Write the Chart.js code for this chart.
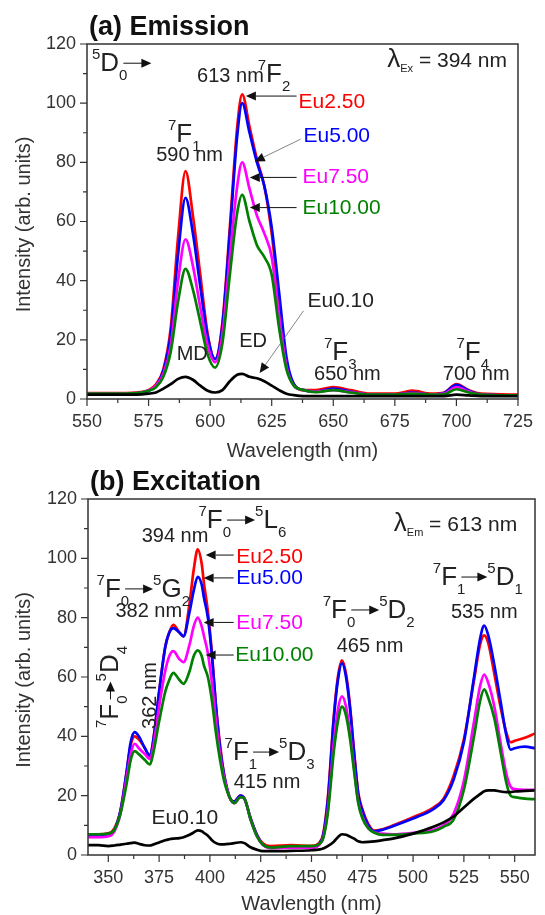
<!DOCTYPE html>
<html>
<head>
<meta charset="utf-8">
<script src="https://cdn.jsdelivr.net/npm/chart.js@4.4.1/dist/chart.umd.min.js"></script>
<style>
html, body { margin: 0; padding: 0; background: #fff; }
#wrapA { position: absolute; left: 0; top: 0; width: 545px; height: 465px; }
#wrapB { position: absolute; left: 0; top: 465px; width: 545px; height: 450px; }
</style>
</head>
<body>
<div id="wrapA"><canvas id="emission"></canvas></div>
<div id="wrapB"><canvas id="excitation"></canvas></div>
<script>
// ---- (a) emission spectra, lambda_ex = 394 nm
const emWavelength = [550, 560, 570, 575, 578, 581, 584, 587, 590, 593, 596, 599, 602, 605, 608, 611, 613, 616, 619, 622, 625, 628, 631, 634, 638, 643, 650, 657, 665, 675, 682, 690, 695, 700, 705, 710, 725]
const emEu250 = [2, 2, 2.2, 3, 5, 10, 24, 55, 77, 62, 42, 22, 13.5, 26, 58, 92, 103, 92, 81, 72, 56, 33, 12, 5, 3, 3, 4, 3, 1.8, 1.8, 2.8, 1.8, 2.2, 5, 3, 1.8, 1.5]
const emEu500 = [1.5, 1.5, 1.8, 2.8, 4.5, 9.5, 22, 49, 68, 56, 38, 21, 13.5, 25, 56, 89, 100, 90, 80, 72, 58, 36, 14, 5, 3, 2.5, 3.5, 2.5, 1.5, 1.5, 2.2, 1.5, 2, 4.8, 2.8, 1.5, 1.2]
const emEu750 = [1.8, 1.8, 2, 3, 4.5, 8.5, 18, 40, 54, 45, 31, 18, 12.4, 22, 48, 72, 80, 71, 62, 56, 48, 28, 11, 4.5, 3, 2.5, 3, 2.3, 1.5, 1.5, 2, 1.5, 1.8, 4, 2.5, 1.5, 1.2]
const emEu1000 = [1.8, 1.8, 2, 2.8, 4, 7.5, 16, 33, 44, 37, 26, 15, 10.6, 19, 42, 63, 69, 60, 52, 48, 42, 24, 10, 4.5, 3, 2.3, 3, 2.2, 1.5, 1.5, 1.8, 1.5, 1.6, 3.3, 2.2, 1.5, 1.2]
const emEu010 = [1.5, 1.5, 1.5, 1.8, 2.2, 3.5, 5, 6.8, 7.5, 6.5, 4.5, 2.8, 2.2, 3, 6, 8.2, 8.5, 7.5, 7, 6, 4.5, 3, 1.8, 1.3, 1, 1, 1, 1, 1, 1, 1, 1, 1, 1.5, 1.2, 1, 1]

// ---- (b) excitation spectra, lambda_em = 613 nm
const exWavelength = [340, 345, 350, 353, 356, 359, 361, 363, 365, 368, 370.5, 372, 375, 378, 380, 382, 385, 387, 390, 392, 394, 396, 397, 399, 401, 403, 405, 407, 410, 412, 415, 417, 420, 423, 426, 430, 440, 450, 455, 458, 461, 463, 465, 467, 469, 471, 473, 475, 478, 481, 485, 490, 500, 510, 515, 520, 525, 530, 533, 535, 537, 540, 543, 546, 548, 550, 555, 560]
const exEu250 = [7, 7, 7.3, 9, 15, 28, 37, 40, 39, 36, 33, 38, 55, 70, 75, 77.6, 75, 73.7, 85, 96, 103, 98, 92, 82, 68, 50, 37, 27, 19, 18, 20, 19, 12.4, 7, 4, 3, 3.3, 3.1, 5.4, 19, 47, 60, 65.6, 61, 50, 34.5, 21, 15.5, 10.4, 8.2, 8.7, 9.9, 12.7, 16, 19, 26.7, 39, 59, 71, 74, 71.4, 61, 50, 41, 38, 38.5, 39.5, 41]
const exEu500 = [6.5, 6.5, 6.8, 8.5, 15, 28, 38, 41.4, 40, 36, 33.5, 38, 55, 70, 75, 76.5, 75, 73.7, 82, 89, 93.8, 91, 87, 80, 67, 50, 36, 27, 19, 18, 20, 19, 12.4, 7, 3.5, 2.5, 2.7, 2.5, 5, 18, 46, 59, 64.7, 60, 49, 34, 20.5, 15, 10, 8, 8.5, 9.7, 12.3, 15.5, 18.5, 25.5, 38, 60, 73, 77.3, 74, 64, 52, 40, 35.5, 36, 36.5, 36]
const exEu750 = [6, 6, 6.3, 8, 14, 26, 34, 37.5, 36, 34, 32.4, 36, 50, 62, 67, 68.7, 66, 65, 71, 77, 80, 77, 74, 68, 58, 45, 34, 26, 19, 17.5, 19.5, 19, 12, 6.5, 3.5, 2.3, 2.5, 2.5, 4.5, 15, 38, 49, 53.5, 50, 41, 29, 18, 13, 9, 7.6, 7.2, 7, 7.5, 8.5, 10, 14, 25, 45, 57, 60.8, 58, 50, 38, 27, 23, 22.2, 22, 22]
const exEu1000 = [7, 7, 7.2, 8.5, 14, 24, 32, 35, 34, 32, 30.5, 34, 45, 55, 59, 61.4, 59, 57.7, 62, 67, 69, 67, 64, 60, 52, 41, 32, 25, 19, 17.5, 19.5, 19, 12, 6.5, 3.5, 2.5, 3, 3, 4.5, 14, 35, 45, 50, 47, 39, 28, 17.5, 12.5, 9, 7.5, 6.8, 6.8, 7.2, 8, 9.5, 12, 22, 40, 52, 55.8, 53, 46, 35, 24, 20, 19.5, 19, 18.8]
const exEu010 = [3.3, 3.3, 3, 3.2, 3.5, 3.8, 4, 4.2, 3.8, 3.3, 3.2, 3.5, 4.2, 5, 5.3, 5.5, 5.7, 6, 6.8, 7.6, 8.3, 8, 7.5, 6.5, 5, 4, 3.6, 3.6, 3.8, 4, 4.3, 4, 2.6, 1.8, 1.3, 1.3, 1.4, 1.6, 2, 3, 4.5, 6, 7, 6.8, 6.2, 5.5, 4.6, 4.3, 4.4, 4.6, 5, 5.5, 7.2, 9.5, 11, 13, 16, 19, 20.5, 21.5, 21.8, 21.8, 21.4, 21.2, 21.2, 21.4, 21.6, 21.8]

const sampleNames = ['Eu2.50', 'Eu5.00', 'Eu7.50', 'Eu10.00', 'Eu0.10']
const sampleColors = ['#ff0000', '#0000ff', '#ff00ff', '#008000', '#000000']
const drawOrder = [4, 3, 2, 1, 0]

const yTicks = [0, 20, 40, 60, 80, 100, 120]

const FONT = '"Liberation Sans", Arial, sans-serif'
Chart.defaults.font.family = FONT
Chart.defaults.color = '#333'

// term('7','F','0') -> superscript 7, F, subscript 0
const term = (sup, s, sub) => [{t: sup, sup: true}, {t: s}, {t: sub, sub: true}]
const arrow = (len) => ({arrow: len})
const txt = (t) => ({t: t, size: 20})
const lbl = (t) => ({t: t, size: 21})

const emNotes = [
	{x: 552, y: 110.8, parts: [...term('5', 'D', '0'), arrow(28)]},
	{x: 594.7, y: 107.1, parts: [txt('613 nm')]},
	{x: 619.3, y: 107.1, parts: term('7', 'F', '2')},
	{x: 582.9, y: 86.8, parts: term('7', 'F', '1')},
	{x: 578.1, y: 80.3, parts: [txt('590 nm')]},
	{x: 671.9, y: 112.2, parts: [{t: 'λ'}, {t: 'Ex', size: 11, sub: true}, lbl(' = 394 nm')]},
	{x: 586.4, y: 14.9, parts: [txt('MD')], middle: true},
	{x: 611.8, y: 19.3, parts: [txt('ED')], middle: true},
	{x: 646.2, y: 13.2, parts: term('7', 'F', '3')},
	{x: 642.2, y: 6.4, parts: [txt('650 nm')]},
	{x: 700.0, y: 13.2, parts: term('7', 'F', '4')},
	{x: 694.5, y: 6.4, parts: [txt('700 nm')]},
	{x: 635.9, y: 100.3, parts: [lbl('Eu2.50')], middle: true, color: sampleColors[0]},
	{x: 637.9, y: 88.8, parts: [lbl('Eu5.00')], middle: true, color: sampleColors[1]},
	{x: 637.5, y: 74.9, parts: [lbl('Eu7.50')], middle: true, color: sampleColors[2]},
	{x: 637.5, y: 64.4, parts: [lbl('Eu10.00')], middle: true, color: sampleColors[3]},
	{x: 639.5, y: 32.9, parts: [lbl('Eu0.10')], middle: true}
]
const emArrows = [
	{from: [635.1, 102.4], to: [614.5, 102.4]},
	{from: [636.7, 87.8], to: [618.1, 80.3], gray: true},
	{from: [635.1, 74.9], to: [616.1, 74.9]},
	{from: [635.1, 64.7], to: [616.1, 64.7]},
	{from: [637.9, 29.8], to: [620.1, 8.8], gray: true}
]

const exNotes = [
	{x: 394.4, y: 110.2, parts: [...term('7', 'F', '0'), arrow(28), ...term('5', 'L', '6')]},
	{x: 366.4, y: 105.5, parts: [txt('394 nm')]},
	{x: 490.5, y: 109.2, parts: [{t: 'λ'}, {t: 'Em', size: 11, sub: true}, lbl(' = 613 nm')]},
	{x: 344.2, y: 87.0, parts: [...term('7', 'F', '0'), arrow(28), ...term('5', 'G', '2')]},
	{x: 353.5, y: 80.2, parts: [txt('382 nm')]},
	{x: 455.5, y: 79.9, parts: [...term('7', 'F', '0'), arrow(28), ...term('5', 'D', '2')]},
	{x: 462.4, y: 68.4, parts: [txt('465 nm')]},
	{x: 509.7, y: 91.0, parts: [...term('7', 'F', '1'), arrow(26), ...term('5', 'D', '1')]},
	{x: 518.6, y: 79.9, parts: [txt('535 nm')]},
	{x: 407.2, y: 32.0, parts: [...term('7', 'F', '1'), arrow(26), ...term('5', 'D', '3')]},
	{x: 411.7, y: 22.6, parts: [txt('415 nm')]},
	{x: 355.0, y: 42.8, parts: [...term('7', 'F', '0'), arrow(18), ...term('5', 'D', '4')], rotate: true},
	{x: 373.3, y: 42.5, parts: [txt('362 nm')], rotate: true},
	{x: 413.0, y: 100.4, parts: [lbl('Eu2.50')], middle: true, color: sampleColors[0]},
	{x: 413.0, y: 93.4, parts: [lbl('Eu5.00')], middle: true, color: sampleColors[1]},
	{x: 413.0, y: 78.2, parts: [lbl('Eu7.50')], middle: true, color: sampleColors[2]},
	{x: 412.5, y: 67.4, parts: [lbl('Eu10.00')], middle: true, color: sampleColors[3]},
	{x: 371.3, y: 12.5, parts: [lbl('Eu0.10')], middle: true}
]
const exArrows = [
	{from: [411.7, 101.1], to: [397.9, 101.1]},
	{from: [411.7, 93.4], to: [396.9, 93.4]},
	{from: [411.7, 78.4], to: [396.9, 78.4]},
	{from: [411.7, 67.4], to: [397.9, 67.4]}
]

function drawRich(ctx, x, y, parts, opt) {
	ctx.save()
	ctx.translate(x, y)
	if (opt.rotate) ctx.rotate(-Math.PI / 2)
	ctx.fillStyle = opt.color || '#222'
	ctx.strokeStyle = '#111'
	ctx.textBaseline = opt.middle ? 'middle' : 'alphabetic'
	let cx = 0
	parts.forEach(function(p) {
		if (p.arrow) {
			const start = cx - 4, end = cx + p.arrow - 4, ay = -8
			ctx.lineWidth = 1
			ctx.beginPath(); ctx.moveTo(start, ay); ctx.lineTo(end - 8, ay); ctx.stroke()
			ctx.fillStyle = '#111'
			ctx.beginPath(); ctx.moveTo(end, ay); ctx.lineTo(end - 10, ay - 4.5); ctx.lineTo(end - 10, ay + 4.5); ctx.closePath(); ctx.fill()
			ctx.fillStyle = opt.color || '#222'
			cx = end
			return
		}
		const size = p.size || (p.sup || p.sub ? 15 : 26)
		ctx.font = size + 'px ' + FONT
		let dy = 0
		if (p.sup) dy = -12
		if (p.sub) dy = size < 13 ? 5 : 9
		ctx.fillText(p.t, cx, dy)
		cx += ctx.measureText(p.t).width
	})
	ctx.restore()
}

function drawArrow(ctx, x1, y1, x2, y2, gray) {
	const ang = Math.atan2(y2 - y1, x2 - x1)
	const hl = 10, hw = 4.5
	const bx = x2 - hl * Math.cos(ang), by = y2 - hl * Math.sin(ang)
	ctx.save()
	ctx.strokeStyle = gray ? '#666' : '#111'
	ctx.lineWidth = gray ? 0.8 : 1
	ctx.beginPath(); ctx.moveTo(x1, y1); ctx.lineTo(bx, by); ctx.stroke()
	ctx.fillStyle = '#111'
	ctx.beginPath()
	ctx.moveTo(x2, y2)
	ctx.lineTo(bx + hw * Math.sin(ang), by - hw * Math.cos(ang))
	ctx.lineTo(bx - hw * Math.sin(ang), by + hw * Math.cos(ang))
	ctx.closePath(); ctx.fill()
	ctx.restore()
}

const decor = {
	id: 'decor',
	afterDatasetsDraw(chart, args, opts) {
		const ctx = chart.ctx, a = chart.chartArea
		const xs = chart.scales.x, ys = chart.scales.y
		ctx.save()
		// frame
		ctx.strokeStyle = '#333'
		ctx.lineWidth = 1.5
		ctx.strokeRect(a.left, a.top, a.right - a.left, a.bottom - a.top)
		// major + minor ticks
		ctx.lineWidth = 1.2
		ctx.beginPath()
		for (let v = Math.ceil(xs.min / 12.5) * 12.5; v <= xs.max + 1e-6; v += 12.5) {
			const px = xs.getPixelForValue(v)
			ctx.moveTo(px, a.bottom)
			ctx.lineTo(px, a.bottom + (v % 25 === 0 ? 7 : 4))
		}
		for (let v = 0; v <= 120; v += 10) {
			const py = ys.getPixelForValue(v)
			ctx.moveTo(a.left, py)
			ctx.lineTo(a.left - (v % 20 === 0 ? 7 : 4), py)
		}
		ctx.stroke()
		// panel title
		ctx.fillStyle = '#111'
		ctx.font = 'bold 27px ' + FONT
		ctx.textBaseline = 'alphabetic'
		ctx.fillText(opts.title, a.left + 2, a.top - 9)
		// axis titles
		ctx.fillStyle = '#333'
		ctx.font = '20px ' + FONT
		ctx.textAlign = 'center'
		ctx.textBaseline = 'middle'
		ctx.fillText(opts.xTitle, (a.left + a.right) / 2, a.bottom + opts.xTitleGap)
		ctx.save()
		ctx.translate(24, (a.top + a.bottom) / 2 + 3)
		ctx.rotate(-Math.PI / 2)
		ctx.fillText('Intensity (arb. units)', 0, 0)
		ctx.restore()
		ctx.textAlign = 'left'
		// annotations
		opts.arrows.forEach(function(ar) {
			drawArrow(ctx, xs.getPixelForValue(ar.from[0]), ys.getPixelForValue(ar.from[1]),
				xs.getPixelForValue(ar.to[0]), ys.getPixelForValue(ar.to[1]), ar.gray)
		})
		opts.notes.forEach(function(n) {
			drawRich(ctx, xs.getPixelForValue(n.x), ys.getPixelForValue(n.y), n.parts, n)
		})
		ctx.restore()
	}
}

function makeDatasets(wl, series) {
	return series.map(function(vals, i) {
		return {
			label: sampleNames[i],
			data: wl.map((w, k) => ({x: w, y: vals[k]})),
			borderColor: sampleColors[i],
			borderWidth: 2.7,
			pointRadius: 0,
			cubicInterpolationMode: 'monotone',
			order: drawOrder[i]
		}
	})
}

function makeChart(id, wl, series, xMin, xMax, pad, yWidth, xHeight, decorOpts) {
	return new Chart(document.getElementById(id), {
		type: 'line',
		data: {datasets: makeDatasets(wl, series)},
		options: {
			responsive: true,
			maintainAspectRatio: false,
			animation: false,
			devicePixelRatio: 1,
			layout: {padding: pad},
			plugins: {legend: {display: false}, tooltip: {enabled: false}, decor: decorOpts},
			scales: {
				x: {
					type: 'linear', min: xMin, max: xMax,
					grid: {display: false, drawTicks: false}, border: {display: false},
					ticks: {
						stepSize: 25, includeBounds: false, autoSkip: false, maxRotation: 0,
						padding: 12, font: {size: 18}, color: '#333',
						callback: (v) => (v % 25 === 0 ? String(v) : '')
					},
					afterFit: (s) => { s.height = xHeight }
				},
				y: {
					type: 'linear', min: 0, max: 120,
					grid: {display: false, drawTicks: false}, border: {display: false},
					afterBuildTicks: (s) => { s.ticks = yTicks.map(v => ({value: v})) },
					ticks: {padding: 11, font: {size: 18}, color: '#333'},
					afterFit: (s) => { s.width = yWidth }
				}
			}
		},
		plugins: [decor]
	})
}

makeChart('emission', emWavelength, [emEu250, emEu500, emEu750, emEu1000, emEu010], 550, 725,
	{top: 44, right: 16, left: 0, bottom: 0}, 87, 66,
	{title: '(a) Emission', xTitle: 'Wavelength (nm)', xTitleGap: 52, notes: emNotes, arrows: emArrows})

makeChart('excitation', exWavelength, [exEu250, exEu500, exEu750, exEu1000, exEu010], 340, 560,
	{top: 34, right: 10, left: 0, bottom: 0}, 88, 60,
	{title: '(b) Excitation', xTitle: 'Wavlength (nm)', xTitleGap: 49, notes: exNotes, arrows: exArrows})
</script>
</body>
</html>
